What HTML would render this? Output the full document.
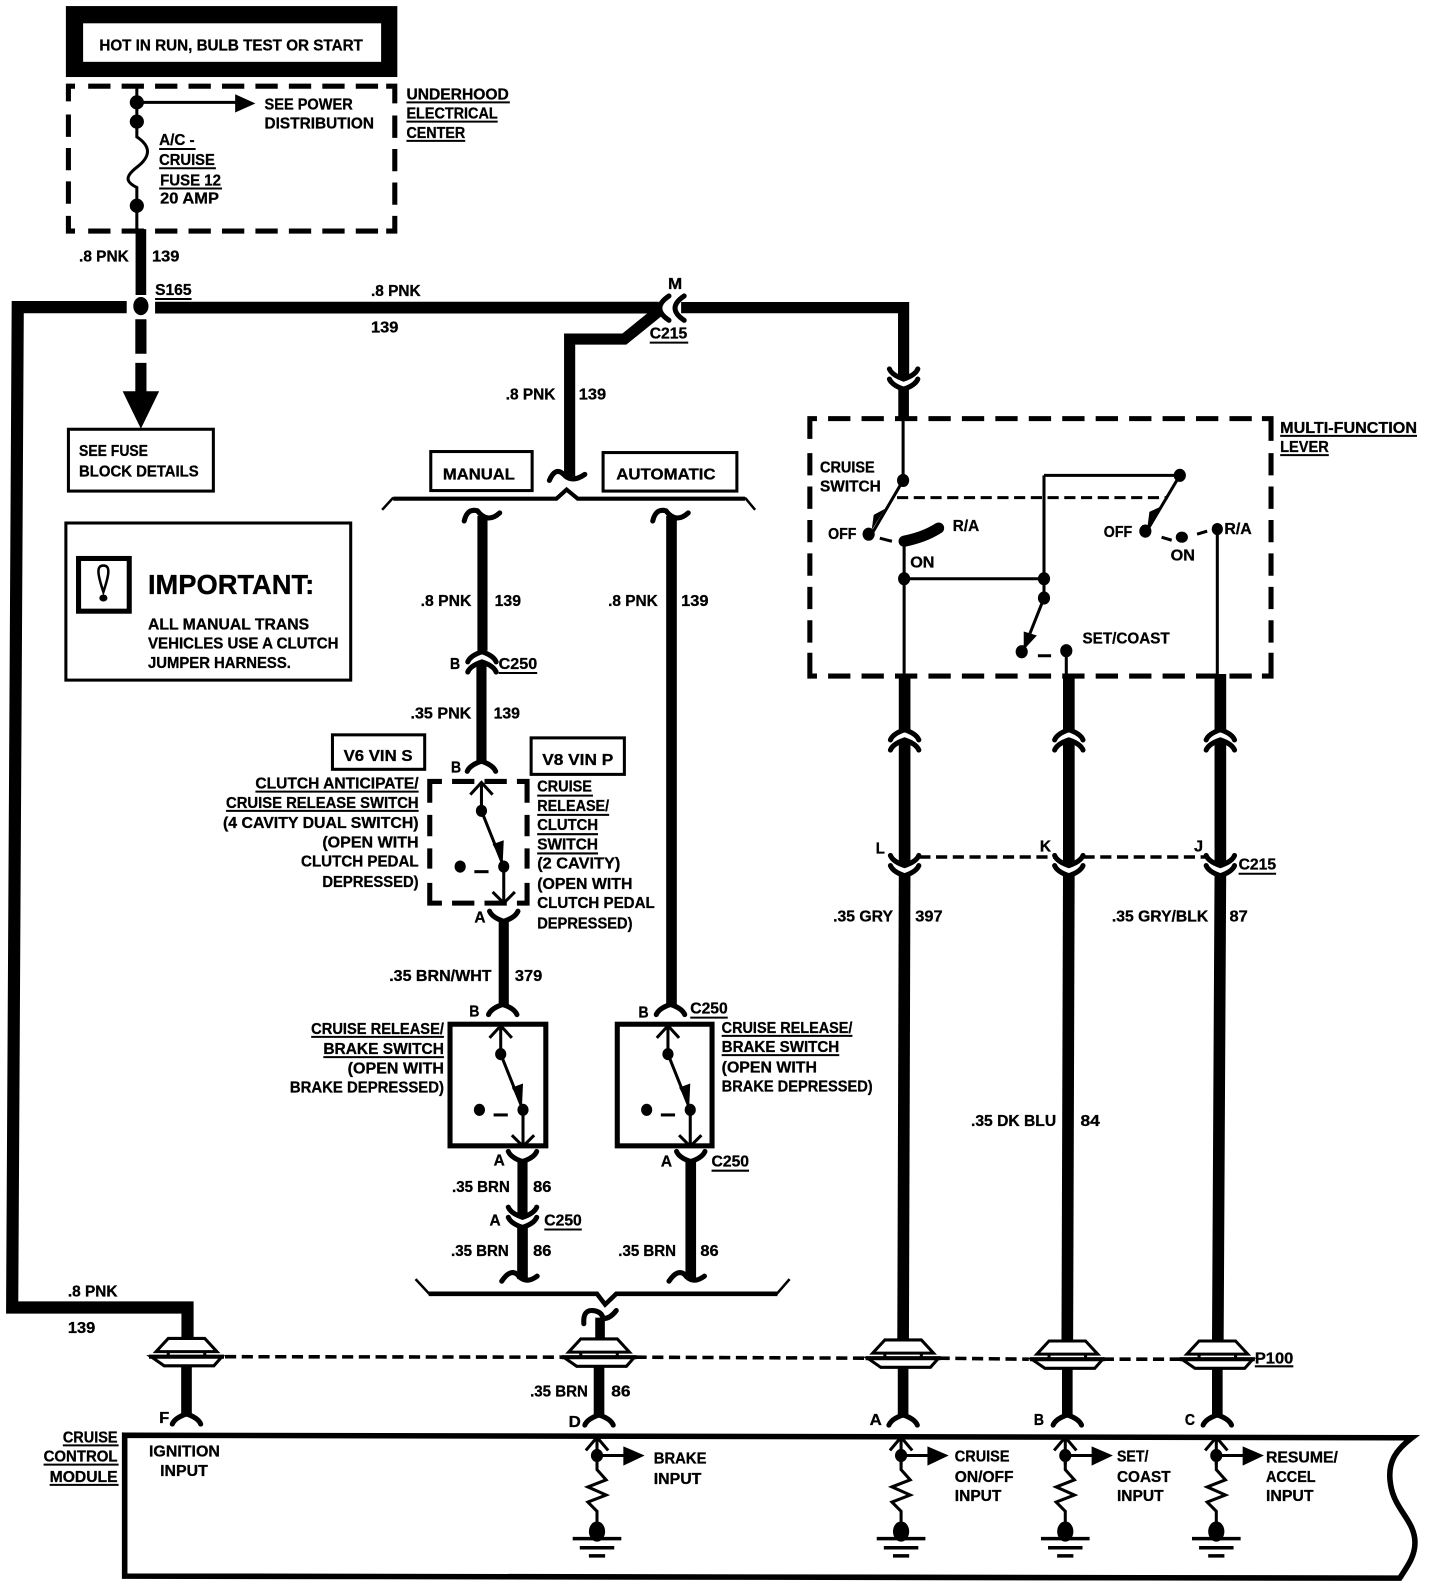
<!DOCTYPE html>
<html><head><meta charset="utf-8"><title>Cruise control wiring diagram</title>
<style>
html,body{margin:0;padding:0;background:#fff}
svg{display:block}
text{font-family:"Liberation Sans",sans-serif;font-weight:bold;font-size:15.5px;fill:#000;stroke:#000;stroke-width:.3}
.w{fill:none;stroke:#000;stroke-linejoin:miter}
.d{fill:none;stroke:#000;stroke-width:5;stroke-dasharray:22 11}
.t{fill:none;stroke:#000;stroke-width:3}
.u{stroke:#000;stroke-width:2}
.b{fill:#fff;stroke:#000;stroke-width:3}
.s{fill:none;stroke:#000;stroke-width:5;stroke-linecap:round}
.dl{fill:none;stroke:#000;stroke-width:3.5;stroke-dasharray:11 5.5}
</style></head><body>
<svg width="1440" height="1590" viewBox="0 0 1420.7 1568.7" preserveAspectRatio="none" xmlns="http://www.w3.org/2000/svg">
<defs>
<g id="sw">
<path class="t" d="M0,0V-28M-11,-16L0,-28L11,-16"/>
<path class="t" d="M0,0L22,55V91M11,80L22,91L33,80"/>
<polygon points="21,51 11,33 22,29"/>
<ellipse cx="0" cy="0" rx="5.5" ry="6"/><ellipse cx="22" cy="55" rx="5.5" ry="6"/><ellipse cx="-21" cy="55" rx="5.5" ry="6"/>
<path class="t" d="M-7,60H7"/>
</g>
<g id="spl">
<path class="b" d="M-18,-18H18L30,-5H-30Z"/>
<path class="t" d="M-18,-5V-1M18,-5V-1"/>
<path class="b" d="M-35,0H35L27,9H-22Z"/>
<path d="M-37,0H37" stroke="#000" stroke-width="4"/>
</g>
<g id="unit">
<path class="t" d="M0,1V28M-11,14L0,1L11,14"/>
<ellipse cx="0" cy="19" rx="6" ry="6.5"/>
<path class="t" d="M0,19H30"/><polygon points="26,10 47,19 26,29"/>
<path class="t" d="M0,25V33L9,43L-9,50L9,58L-9,65L0,74V90"/>
<ellipse cx="0" cy="94" rx="8" ry="10"/>
<path d="M-24,101H24" stroke="#000" stroke-width="3.5"/>
<path d="M-17,110H17" stroke="#000" stroke-width="3.5"/>
<path d="M-8,118H8" stroke="#000" stroke-width="3.5"/>
</g>
<path id="cu" class="s" d="M-14,-10C-12,-5 -6,-2 0,0C6,-2 12,-5 14,-10"/>
<path id="ca" class="s" d="M-14,10C-12,5 -6,2 0,0C6,2 12,5 14,10"/>
</defs>

<!-- top box -->
<rect x="65" y="6" width="327" height="70"/>
<rect x="82" y="23" width="294" height="38" fill="#fff"/>
<text x="98" y="50" textLength="260" lengthAdjust="spacingAndGlyphs">HOT IN RUN, BULB TEST OR START</text>

<!-- underhood dashed box -->
<path class="d" d="M87,85H375M87,228H375M67.5,113V205M389.5,114V205"/>
<path class="w" stroke-width="5" d="M74,85H67.5V100M381,85H389.5V102M67.5,213V228H74M389.5,213V228H381"/>
<path class="t" d="M135,85V135C150,145 148,155 135,165C122,175 125,180 135,185V228"/>
<path class="t" d="M135,101H235"/><polygon points="232,93 252,102 232,111"/>
<ellipse cx="135" cy="101" rx="7" ry="7"/><ellipse cx="135" cy="120" rx="7" ry="7"/><ellipse cx="135" cy="203" rx="7" ry="7"/>
<text x="261" y="108" textLength="87" lengthAdjust="spacingAndGlyphs">SEE POWER</text>
<text x="261" y="127" textLength="108" lengthAdjust="spacingAndGlyphs">DISTRIBUTION</text>
<text x="157" y="143" textLength="35" lengthAdjust="spacingAndGlyphs">A/C -</text><path class="u" d="M157,147H193"/>
<text x="157" y="163" textLength="55" lengthAdjust="spacingAndGlyphs">CRUISE</text><path class="u" d="M157,166H213"/>
<text x="158" y="183" textLength="60" lengthAdjust="spacingAndGlyphs">FUSE 12</text><path class="u" d="M157,186H219"/>
<text x="158" y="201" textLength="58" lengthAdjust="spacingAndGlyphs">20 AMP</text>
<text x="401" y="98" textLength="101" lengthAdjust="spacingAndGlyphs">UNDERHOOD</text><path class="u" d="M401,101H503"/>
<text x="401" y="117" textLength="90" lengthAdjust="spacingAndGlyphs">ELECTRICAL</text><path class="u" d="M401,120H491"/>
<text x="401" y="136" textLength="58" lengthAdjust="spacingAndGlyphs">CENTER</text><path class="u" d="M401,139H459"/>

<!-- main feed -->
<path class="w" stroke-width="10.5" d="M139,226V291"/>
<text x="78" y="258" textLength="49" lengthAdjust="spacingAndGlyphs">.8 PNK</text>
<text x="150" y="258" textLength="27" lengthAdjust="spacingAndGlyphs">139</text>
<text x="153" y="291" textLength="36" lengthAdjust="spacingAndGlyphs">S165</text><path class="u" d="M153,295H189"/>
<ellipse cx="139" cy="302" rx="7.5" ry="9"/>
<path class="w" stroke-width="12" d="M125,303H17.5L12,1290H185V1322"/>
<path class="w" stroke-width="11.500" d="M153,303.500H650"/>
<path class="w" stroke-width="11" d="M672,303.500H891.500V374"/>
<text x="366" y="292" textLength="49" lengthAdjust="spacingAndGlyphs">.8 PNK</text>
<text x="366" y="328" textLength="27" lengthAdjust="spacingAndGlyphs">139</text>
<text x="659" y="285" textLength="14" lengthAdjust="spacingAndGlyphs">M</text>
<text x="641" y="334" textLength="37" lengthAdjust="spacingAndGlyphs">C215</text><path class="u" d="M641,338H679"/>
<path class="s" d="M660,292Q642,304 660,316"/>
<path class="s" d="M675,292Q657,304 675,316"/>
<path class="w" stroke-width="11" d="M650,307L616,334.500H562V470"/>
<text x="499" y="394" textLength="49" lengthAdjust="spacingAndGlyphs">.8 PNK</text>
<text x="571" y="394" textLength="27" lengthAdjust="spacingAndGlyphs">139</text>
<path class="s" d="M542,474Q548,460 556,468Q564,477 577,468"/>

<!-- fuse arrow -->
<path class="w" stroke-width="11" d="M139,315V349M139,358V400"/>
<polygon points="121,386 157,386 139,423"/>
<rect x="67.500" y="423.500" width="143" height="61" class="b"/>
<text x="78" y="450" textLength="68" lengthAdjust="spacingAndGlyphs">SEE FUSE</text>
<text x="78" y="470" textLength="118" lengthAdjust="spacingAndGlyphs">BLOCK DETAILS</text>

<!-- important -->
<rect x="65" y="516" width="281" height="155" class="b"/>
<rect x="77.500" y="551" width="50" height="52" fill="#fff" stroke="#000" stroke-width="5"/>
<path fill="#fff" stroke="#000" stroke-width="2.500" d="M102,558C95,558 96,566 102,584C108,566 109,558 102,558Z"/>
<ellipse cx="102" cy="590" rx="4" ry="3.500"/>
<text x="146" y="586" style="font-size:27px" textLength="164" lengthAdjust="spacingAndGlyphs">IMPORTANT:</text>
<text x="146" y="621" textLength="159" lengthAdjust="spacingAndGlyphs">ALL MANUAL TRANS</text>
<text x="146" y="640" textLength="188" lengthAdjust="spacingAndGlyphs">VEHICLES USE A CLUTCH</text>
<text x="146" y="659" textLength="141" lengthAdjust="spacingAndGlyphs">JUMPER HARNESS.</text>

<!-- manual / automatic -->
<rect x="425" y="445.500" width="100" height="38.500" class="b"/>
<text x="437" y="473" textLength="71" lengthAdjust="spacingAndGlyphs">MANUAL</text>
<rect x="595" y="446.500" width="132" height="38" class="b"/>
<text x="608" y="473" textLength="98" lengthAdjust="spacingAndGlyphs">AUTOMATIC</text>
<path class="w" stroke-width="4" d="M388,492H549L559,483L570,492H735"/>
<path class="w" stroke-width="2.500" d="M377,503L388,491M735,491L745,503"/>

<!-- manual wire -->
<path class="s" d="M458,514Q461,501 471,504Q481,517 493,506"/>
<path class="w" stroke-width="10" d="M476,509V642"/>
<text x="415" y="598" textLength="50" lengthAdjust="spacingAndGlyphs">.8 PNK</text>
<text x="488" y="598" textLength="26" lengthAdjust="spacingAndGlyphs">139</text>
<use href="#ca" x="475.500" y="643"/><use href="#ca" x="475.500" y="653"/>
<text x="444" y="660" textLength="10" lengthAdjust="spacingAndGlyphs">B</text>
<text x="492" y="660" textLength="38" lengthAdjust="spacingAndGlyphs">C250</text><path class="u" d="M492,664H530"/>
<path class="w" stroke-width="10" d="M475,653V751"/>
<text x="405" y="709" textLength="60" lengthAdjust="spacingAndGlyphs">.35 PNK</text>
<text x="487" y="709" textLength="26" lengthAdjust="spacingAndGlyphs">139</text>
<rect x="328" y="725" width="91" height="34" class="b"/>
<text x="339" y="751" textLength="68" lengthAdjust="spacingAndGlyphs">V6  VIN S</text>
<rect x="524" y="728" width="92" height="36" class="b"/>
<text x="535" y="755" textLength="70" lengthAdjust="spacingAndGlyphs">V8  VIN P</text>
<use href="#ca" x="475" y="751"/>
<text x="445" y="762" textLength="10" lengthAdjust="spacingAndGlyphs">B</text>

<!-- clutch dashed box -->
<path class="w" stroke-width="5" d="M436,771H424V792M510,771H520V792M424,871V891H436M520,871V891H510M446,771H468M478,771H500M446,891H468M478,891H500M424,804V825M424,837V857M520,804V825M520,837V857"/>
<use href="#sw" x="475" y="800"/>
<use href="#cu" x="497" y="909"/>
<path class="w" stroke-width="10" d="M497,908V992"/>
<text x="468" y="910" textLength="11" lengthAdjust="spacingAndGlyphs">A</text>
<text x="252" y="778" textLength="161" lengthAdjust="spacingAndGlyphs">CLUTCH ANTICIPATE/</text><path class="u" d="M252,781H413"/>
<text x="223" y="797" textLength="190" lengthAdjust="spacingAndGlyphs">CRUISE RELEASE SWITCH</text><path class="u" d="M223,800H413"/>
<text x="220" y="817" textLength="193" lengthAdjust="spacingAndGlyphs">(4 CAVITY DUAL SWITCH)</text>
<text x="318" y="836" textLength="95" lengthAdjust="spacingAndGlyphs">(OPEN WITH</text>
<text x="297" y="855" textLength="116" lengthAdjust="spacingAndGlyphs">CLUTCH PEDAL</text>
<text x="318" y="875" textLength="95" lengthAdjust="spacingAndGlyphs">DEPRESSED)</text>
<text x="530" y="781" textLength="54" lengthAdjust="spacingAndGlyphs">CRUISE</text><path class="u" d="M530,785H585"/>
<text x="530" y="800" textLength="71" lengthAdjust="spacingAndGlyphs">RELEASE/</text><path class="u" d="M530,804H601"/>
<text x="530" y="819" textLength="60" lengthAdjust="spacingAndGlyphs">CLUTCH</text><path class="u" d="M530,823H590"/>
<text x="530" y="838" textLength="60" lengthAdjust="spacingAndGlyphs">SWITCH</text><path class="u" d="M530,842H590"/>
<text x="530" y="857" textLength="82" lengthAdjust="spacingAndGlyphs">(2 CAVITY)</text>
<text x="530" y="877" textLength="94" lengthAdjust="spacingAndGlyphs">(OPEN WITH</text>
<text x="530" y="896" textLength="116" lengthAdjust="spacingAndGlyphs">CLUTCH PEDAL</text>
<text x="530" y="916" textLength="94" lengthAdjust="spacingAndGlyphs">DEPRESSED)</text>
<text x="384" y="968" textLength="101" lengthAdjust="spacingAndGlyphs">.35 BRN/WHT</text>
<text x="508" y="968" textLength="27" lengthAdjust="spacingAndGlyphs">379</text>

<!-- brake switch 1 -->
<use href="#ca" x="496" y="991"/>
<text x="463" y="1003" textLength="10" lengthAdjust="spacingAndGlyphs">B</text>
<rect x="444" y="1010.500" width="94.500" height="120" fill="#fff" stroke="#000" stroke-width="5"/>
<use href="#sw" x="494" y="1040"/>
<text x="307" y="1020" textLength="131" lengthAdjust="spacingAndGlyphs">CRUISE RELEASE/</text><path class="u" d="M307,1023H438"/>
<text x="319" y="1040" textLength="119" lengthAdjust="spacingAndGlyphs">BRAKE SWITCH</text><path class="u" d="M319,1043H438"/>
<text x="343" y="1059" textLength="95" lengthAdjust="spacingAndGlyphs">(OPEN WITH</text>
<text x="286" y="1078" textLength="152" lengthAdjust="spacingAndGlyphs">BRAKE DEPRESSED)</text>
<use href="#cu" x="515.500" y="1146"/>
<path class="w" stroke-width="10" d="M515.500,1146V1201"/>
<text x="487" y="1150" textLength="11" lengthAdjust="spacingAndGlyphs">A</text>
<text x="446" y="1176" textLength="57" lengthAdjust="spacingAndGlyphs">.35 BRN</text>
<text x="526" y="1176" textLength="18" lengthAdjust="spacingAndGlyphs">86</text>
<use href="#cu" x="515.500" y="1201"/><use href="#cu" x="515.500" y="1211"/>
<text x="483" y="1209" textLength="11" lengthAdjust="spacingAndGlyphs">A</text>
<text x="537" y="1209" textLength="37" lengthAdjust="spacingAndGlyphs">C250</text><path class="u" d="M537,1213H574"/>
<path class="w" stroke-width="10.500" d="M515.500,1211V1262"/>
<text x="445" y="1239" textLength="57" lengthAdjust="spacingAndGlyphs">.35 BRN</text>
<text x="526" y="1239" textLength="18" lengthAdjust="spacingAndGlyphs">86</text>
<path class="s" d="M495,1264Q503,1252 510,1257Q518,1268 530,1259"/>

<!-- automatic wire -->
<path class="s" d="M644,514Q647,501 657,504Q667,517 679,506"/>
<path class="w" stroke-width="10.500" d="M662.500,509V992"/>
<text x="600" y="598" textLength="49" lengthAdjust="spacingAndGlyphs">.8 PNK</text>
<text x="672" y="598" textLength="27" lengthAdjust="spacingAndGlyphs">139</text>
<use href="#ca" x="661.500" y="991"/>
<text x="630" y="1004" textLength="10" lengthAdjust="spacingAndGlyphs">B</text>
<text x="681" y="1000" textLength="37" lengthAdjust="spacingAndGlyphs">C250</text><path class="u" d="M681,1004H718"/>
<rect x="609" y="1010.500" width="93.500" height="120" fill="#fff" stroke="#000" stroke-width="5"/>
<use href="#sw" x="659" y="1040"/>
<text x="712" y="1019" textLength="129" lengthAdjust="spacingAndGlyphs">CRUISE RELEASE/</text><path class="u" d="M712,1022H841"/>
<text x="712" y="1038" textLength="116" lengthAdjust="spacingAndGlyphs">BRAKE SWITCH</text><path class="u" d="M712,1041H828"/>
<text x="712" y="1058" textLength="94" lengthAdjust="spacingAndGlyphs">(OPEN WITH</text>
<text x="712" y="1077" textLength="149" lengthAdjust="spacingAndGlyphs">BRAKE DEPRESSED)</text>
<use href="#cu" x="681.500" y="1146"/>
<path class="w" stroke-width="10.500" d="M681.500,1146V1262"/>
<text x="652" y="1151" textLength="11" lengthAdjust="spacingAndGlyphs">A</text>
<text x="702" y="1151" textLength="37" lengthAdjust="spacingAndGlyphs">C250</text><path class="u" d="M702,1155H739"/>
<text x="610" y="1239" textLength="57" lengthAdjust="spacingAndGlyphs">.35 BRN</text>
<text x="691" y="1239" textLength="18" lengthAdjust="spacingAndGlyphs">86</text>
<path class="s" d="M660,1264Q668,1252 675,1257Q683,1268 695,1259"/>

<!-- lower bracket -->
<path class="w" stroke-width="4.500" d="M423,1276.500H589L597,1287L608,1276.500H767"/>
<path class="w" stroke-width="2.500" d="M410,1262L424,1277M766,1277L779,1262"/>
<path class="s" d="M576,1306Q575,1292 585,1293Q594,1294 595,1301Q602,1301 608,1293"/>
<path class="w" stroke-width="9.500" d="M592,1300V1322"/>

<!-- multifunction lever -->
<path class="w" stroke-width="10.500" d="M891.500,384V413"/>
<use href="#cu" x="891.500" y="374"/><use href="#cu" x="891.500" y="384"/>
<path class="d" d="M817,413H1240M817,667H1240M799,447V640M1254,447V640"/>
<path class="w" stroke-width="5" d="M806,413H799V433M1245,413H1254V435M799,644V667H806M1254,644V667H1245"/>
<path class="t" d="M891,413V474L860,527"/>
<ellipse cx="891" cy="474" rx="6" ry="6.500"/><ellipse cx="857" cy="527" rx="6" ry="6.500"/>
<polygon points="860,523 862,508 873,502"/>
<text x="809" y="466" textLength="54" lengthAdjust="spacingAndGlyphs">CRUISE</text>
<text x="809" y="485" textLength="60" lengthAdjust="spacingAndGlyphs">SWITCH</text>
<text x="817" y="532" textLength="28" lengthAdjust="spacingAndGlyphs">OFF</text>
<path class="t" d="M868,531L880,534"/>
<path d="M892,534Q912,530 926,521" fill="none" stroke="#000" stroke-width="11" stroke-linecap="round"/>
<text x="940" y="524" textLength="26" lengthAdjust="spacingAndGlyphs">R/A</text>
<text x="898" y="560" textLength="24" lengthAdjust="spacingAndGlyphs">ON</text>
<path class="t" d="M892,535V667M892,571H1030M1030,469V590M1030,469H1164M1164,469L1132,523"/>
<ellipse cx="892" cy="571" rx="6" ry="6.500"/><ellipse cx="1030" cy="571" rx="6" ry="6.500"/><ellipse cx="1030" cy="590" rx="6" ry="6.500"/><ellipse cx="1164" cy="469" rx="6" ry="6.500"/>
<polygon points="1132,521 1134,505 1147,499"/>
<ellipse cx="1130" cy="524" rx="6" ry="6.500"/>
<path class="dl" style="stroke-width:3" d="M885,491H1152"/>
<text x="1089" y="530" textLength="28" lengthAdjust="spacingAndGlyphs">OFF</text>
<path class="t" d="M1146,530L1156,533M1181,527L1191,524"/>
<ellipse cx="1166" cy="530" rx="6" ry="5.500"/><ellipse cx="1201" cy="522" rx="5.500" ry="6"/>
<text x="1155" y="553" textLength="24" lengthAdjust="spacingAndGlyphs">ON</text>
<text x="1208" y="527" textLength="27" lengthAdjust="spacingAndGlyphs">R/A</text>
<path class="t" d="M1201,522V667"/>
<path class="t" d="M1030,590L1009,643"/>
<polygon points="1010,641 1010,623 1023,627"/>
<ellipse cx="1008" cy="643" rx="6" ry="6.500"/><ellipse cx="1052" cy="642" rx="6" ry="6.500"/>
<path class="t" d="M1024,647L1037,647M1052,642V667"/>
<text x="1068" y="635" textLength="86" lengthAdjust="spacingAndGlyphs">SET/COAST</text>
<text x="1263" y="427" textLength="135" lengthAdjust="spacingAndGlyphs">MULTI-FUNCTION</text><path class="u" d="M1263,430H1398"/>
<text x="1263" y="446" textLength="48" lengthAdjust="spacingAndGlyphs">LEVER</text><path class="u" d="M1263,449H1311"/>

<!-- three right wires -->
<path class="w" stroke-width="11.500" d="M892.500,665V721M1054.500,665V721M1204,665V721"/>
<use href="#ca" x="892.500" y="720"/><use href="#ca" x="892.500" y="730"/>
<use href="#ca" x="1054.500" y="720"/><use href="#ca" x="1054.500" y="730"/>
<use href="#ca" x="1204" y="720"/><use href="#ca" x="1204" y="730"/>
<path class="w" stroke-width="11.500" d="M892.500,731V854M1054.500,731V854M1204,731V854"/>
<use href="#cu" x="892.500" y="854"/><use href="#cu" x="892.500" y="864"/>
<use href="#cu" x="1054.500" y="854"/><use href="#cu" x="1054.500" y="864"/>
<use href="#cu" x="1204" y="854"/><use href="#cu" x="1204" y="864"/>
<path class="dl" d="M907,845.500H1040M1069,845.500H1190"/>
<path class="w" stroke-width="11.500" d="M892.500,864L891,1323M1054.500,864L1053,1323M1204,864L1201.500,1323"/>
<text x="864" y="842" textLength="9" lengthAdjust="spacingAndGlyphs">L</text>
<text x="1026" y="840" textLength="11" lengthAdjust="spacingAndGlyphs">K</text>
<text x="1178" y="840" textLength="9" lengthAdjust="spacingAndGlyphs">J</text>
<text x="1222" y="858" textLength="37" lengthAdjust="spacingAndGlyphs">C215</text><path class="u" d="M1222,862H1259"/>
<text x="822" y="909" textLength="59" lengthAdjust="spacingAndGlyphs">.35 GRY</text>
<text x="903" y="909" textLength="27" lengthAdjust="spacingAndGlyphs">397</text>
<text x="1097" y="909" textLength="95" lengthAdjust="spacingAndGlyphs">.35 GRY/BLK</text>
<text x="1213" y="909" textLength="18" lengthAdjust="spacingAndGlyphs">87</text>
<text x="958" y="1111" textLength="84" lengthAdjust="spacingAndGlyphs">.35 DK BLU</text>
<text x="1066" y="1111" textLength="19" lengthAdjust="spacingAndGlyphs">84</text>

<!-- P100 splice row -->
<path class="dl" d="M222,1338.500L555,1339M627,1339L855,1340M926,1340L1015,1341M1088,1341L1165,1341"/>
<use href="#spl" x="184" y="1338.500"/><use href="#spl" x="591" y="1339"/><use href="#spl" x="891" y="1340"/><use href="#spl" x="1053" y="1341"/><use href="#spl" x="1201" y="1341"/>
<text x="1238" y="1345" textLength="38" lengthAdjust="spacingAndGlyphs">P100</text><path class="u" d="M1238,1348H1276"/>
<text x="67" y="1279" textLength="49" lengthAdjust="spacingAndGlyphs">.8 PNK</text>
<text x="67" y="1315" textLength="27" lengthAdjust="spacingAndGlyphs">139</text>
<text x="523" y="1378" textLength="57" lengthAdjust="spacingAndGlyphs">.35 BRN</text>
<text x="603" y="1378" textLength="19" lengthAdjust="spacingAndGlyphs">86</text>
<path class="w" stroke-width="10.500" d="M184,1347V1396M591,1348V1396M891,1349V1396M1053,1350V1396M1201,1350V1396"/>
<use href="#ca" x="184" y="1395"/><use href="#ca" x="591" y="1396"/><use href="#ca" x="891" y="1396"/><use href="#ca" x="1053" y="1396"/><use href="#ca" x="1201" y="1396"/>
<text x="157" y="1404" textLength="10" lengthAdjust="spacingAndGlyphs">F</text>
<text x="561" y="1408" textLength="12" lengthAdjust="spacingAndGlyphs">D</text>
<text x="858" y="1406" textLength="12" lengthAdjust="spacingAndGlyphs">A</text>
<text x="1020" y="1406" textLength="10" lengthAdjust="spacingAndGlyphs">B</text>
<text x="1169" y="1406" textLength="10" lengthAdjust="spacingAndGlyphs">C</text>

<!-- module -->
<path fill="none" stroke="#000" stroke-width="5.500" d="M123,1416L1393,1418.500C1378,1430 1368,1442 1372,1465C1376,1490 1396,1500 1396,1522C1396,1536 1388,1546 1381,1557L123,1555Z"/>
<text x="62" y="1423" textLength="54" lengthAdjust="spacingAndGlyphs">CRUISE</text><path class="u" d="M62,1426H117"/>
<text x="43" y="1442" textLength="73" lengthAdjust="spacingAndGlyphs">CONTROL</text><path class="u" d="M43,1445H117"/>
<text x="49" y="1462" textLength="67" lengthAdjust="spacingAndGlyphs">MODULE</text><path class="u" d="M49,1465H117"/>
<text x="147" y="1437" textLength="70" lengthAdjust="spacingAndGlyphs">IGNITION</text>
<text x="158" y="1456" textLength="47" lengthAdjust="spacingAndGlyphs">INPUT</text>
<use href="#unit" x="589" y="1417"/><use href="#unit" x="889" y="1417"/><use href="#unit" x="1051" y="1417"/><use href="#unit" x="1200" y="1417"/>
<text x="645" y="1444" textLength="52" lengthAdjust="spacingAndGlyphs">BRAKE</text>
<text x="645" y="1464" textLength="47" lengthAdjust="spacingAndGlyphs">INPUT</text>
<text x="942" y="1442" textLength="54" lengthAdjust="spacingAndGlyphs">CRUISE</text>
<text x="942" y="1462" textLength="58" lengthAdjust="spacingAndGlyphs">ON/OFF</text>
<text x="942" y="1481" textLength="46" lengthAdjust="spacingAndGlyphs">INPUT</text>
<text x="1102" y="1442" textLength="31" lengthAdjust="spacingAndGlyphs">SET/</text>
<text x="1102" y="1462" textLength="53" lengthAdjust="spacingAndGlyphs">COAST</text>
<text x="1102" y="1481" textLength="46" lengthAdjust="spacingAndGlyphs">INPUT</text>
<text x="1249" y="1443" textLength="71" lengthAdjust="spacingAndGlyphs">RESUME/</text>
<text x="1249" y="1462" textLength="49" lengthAdjust="spacingAndGlyphs">ACCEL</text>
<text x="1249" y="1481" textLength="47" lengthAdjust="spacingAndGlyphs">INPUT</text>
</svg>
</body></html>
